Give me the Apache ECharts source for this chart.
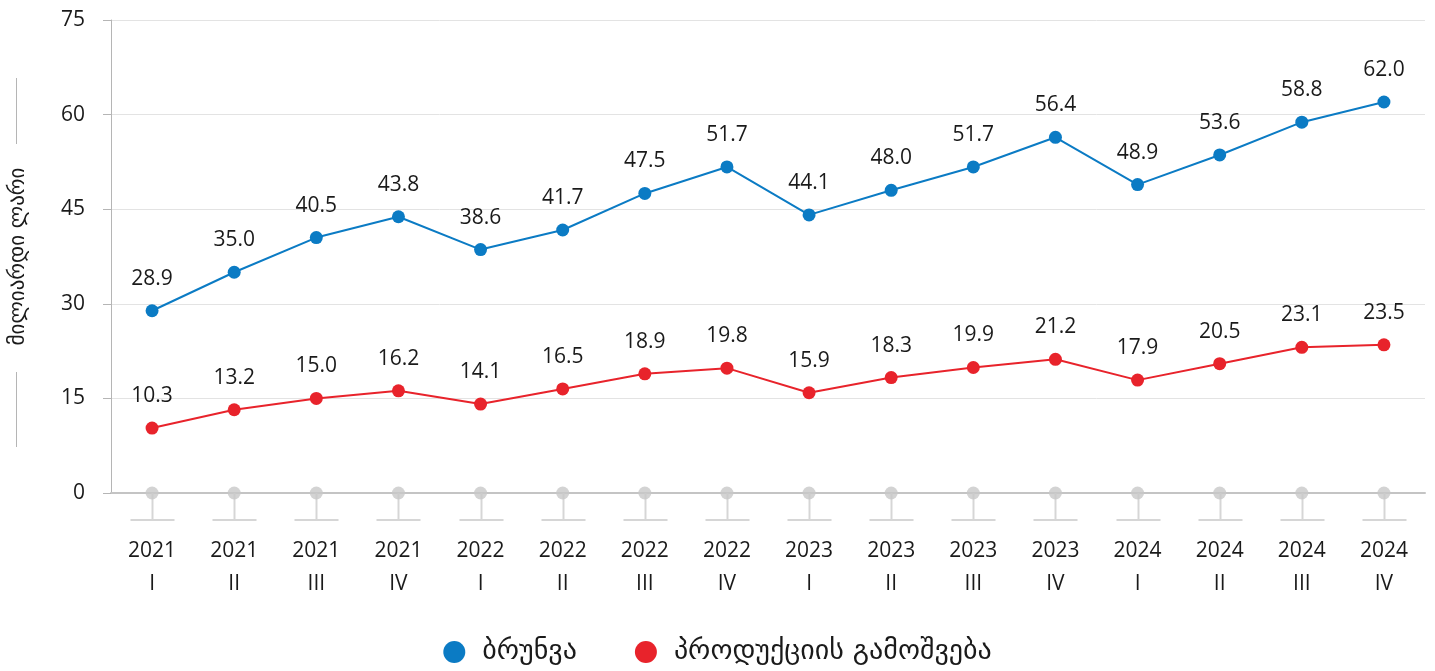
<!DOCTYPE html>
<html>
<head>
<meta charset="utf-8">
<script src="https://cdn.jsdelivr.net/npm/echarts@6/dist/echarts.min.js"></script>
<style>
html,body{margin:0;padding:0;background:#fff;}
#chart{width:1435px;height:671px;}
</style>
</head>
<body>
<div id="chart"></div>
<script>
const years = ['2021','2021','2021','2021','2022','2022','2022','2022','2023','2023','2023','2023','2024','2024','2024','2024'];
const quarters = ['I','II','III','IV','I','II','III','IV','I','II','III','IV','I','II','III','IV'];
const categories = years.map((y, i) => y + '\n' + quarters[i]);
const turnover = [28.9, 35.0, 40.5, 43.8, 38.6, 41.7, 47.5, 51.7, 44.1, 48.0, 51.7, 56.4, 48.9, 53.6, 58.8, 62.0];
const production = [10.3, 13.2, 15.0, 16.2, 14.1, 16.5, 18.9, 19.8, 15.9, 18.3, 19.9, 21.2, 17.9, 20.5, 23.1, 23.5];
const baseline = [0, 0, 0, 0, 0, 0, 0, 0, 0, 0, 0, 0, 0, 0, 0, 0];
const seriesNames = ['ბრუნვა', 'პროდუქციის გამოშვება'];
const yAxisName = 'მილიარდი ლარი';
const yTicks = [0, 15, 30, 45, 60, 75];

const FONT = '"Open Sans", "DejaVu Sans", sans-serif';
const GEO_FONT = '"DejaVu Sans", sans-serif';
const chart = echarts.init(document.getElementById('chart'));

const labelCfg = {
  show: true,
  position: 'top',
  distance: 15,
  fontSize: 21,
  color: '#1a1a1a',
  fontFamily: FONT,
  formatter: p => p.value.toFixed(1)
};

chart.setOption({
  animation: false,
  grid: { left: 109, right: 10, top: 20, bottom: 178, containLabel: false },
  legend: {
    bottom: 0,
    left: 'center',
    data: seriesNames,
    icon: 'circle',
    itemWidth: 22,
    itemHeight: 22,
    itemGap: 58,
    textStyle: { fontSize: 28, color: '#1a1a1a', fontFamily: GEO_FONT, padding: [0, 0, 0, 12] }
  },
  xAxis: {
    type: 'category',
    data: categories,
    boundaryGap: true,
    axisLine: { lineStyle: { color: '#c4c4c4', width: 2 } },
    axisTick: { show: false },
    axisLabel: {
      margin: 42,
      fontSize: 21,
      lineHeight: 33,
      color: '#1a1a1a',
      fontFamily: FONT
    }
  },
  yAxis: {
    type: 'value',
    min: 0,
    max: 75,
    interval: 15,
    name: yAxisName,
    nameLocation: 'middle',
    nameGap: 82,
    nameRotate: 90,
    nameTextStyle: { fontSize: 21, color: '#1a1a1a', fontFamily: GEO_FONT },
    axisLine: { show: true, lineStyle: { color: '#b5b5b5', width: 1 } },
    axisTick: { show: true, length: 8, lineStyle: { color: '#b5b5b5' } },
    axisLabel: {
      margin: 26,
      fontSize: 21,
      color: '#1a1a1a',
      fontFamily: FONT,
      formatter: v => yTicks.includes(v) ? String(v) : ''
    },
    splitLine: { lineStyle: { color: '#e3e3e3' } }
  },
  graphic: [
    { type: 'line', shape: { x1: 16.5, y1: 78, x2: 16.5, y2: 144 }, style: { stroke: '#b5b5b5', lineWidth: 1 } },
    { type: 'line', shape: { x1: 16.5, y1: 372, x2: 16.5, y2: 447 }, style: { stroke: '#b5b5b5', lineWidth: 1 } }
  ],
  series: [
    {
      name: 'base-ticks',
      type: 'custom',
      silent: true,
      clip: false,
      z: 1,
      data: baseline.map((v, i) => [i, v]),
      renderItem: (params, api) => {
        const p = api.coord([api.value(0), api.value(1)]);
        const x = Math.round(p[0]) + 0.5;
        const y = p[1];
        const len = 27;
        const half = 22;
        return {
          type: 'group',
          children: [
            { type: 'line', shape: { x1: x, y1: y, x2: x, y2: y + len }, style: { stroke: '#d6d6d6', lineWidth: 2 } },
            { type: 'line', shape: { x1: x - half, y1: y + len, x2: x + half, y2: y + len }, style: { stroke: '#d6d6d6', lineWidth: 2 } }
          ]
        };
      }
    },
    {
      name: 'base',
      type: 'scatter',
      data: baseline,
      symbol: 'circle',
      symbolSize: 13,
      itemStyle: { color: '#c8c8c8' },
      silent: true,
      z: 2
    },
    {
      name: seriesNames[0],
      type: 'line',
      data: turnover,
      symbol: 'circle',
      symbolSize: 13,
      showAllSymbol: true,
      lineStyle: { color: '#0b7bc4', width: 2 },
      itemStyle: { color: '#0b7bc4' },
      label: labelCfg,
      z: 3
    },
    {
      name: seriesNames[1],
      type: 'line',
      data: production,
      symbol: 'circle',
      symbolSize: 13,
      showAllSymbol: true,
      lineStyle: { color: '#e8232b', width: 2 },
      itemStyle: { color: '#e8232b' },
      label: labelCfg,
      z: 3
    }
  ]
});
</script>
</body>
</html>
